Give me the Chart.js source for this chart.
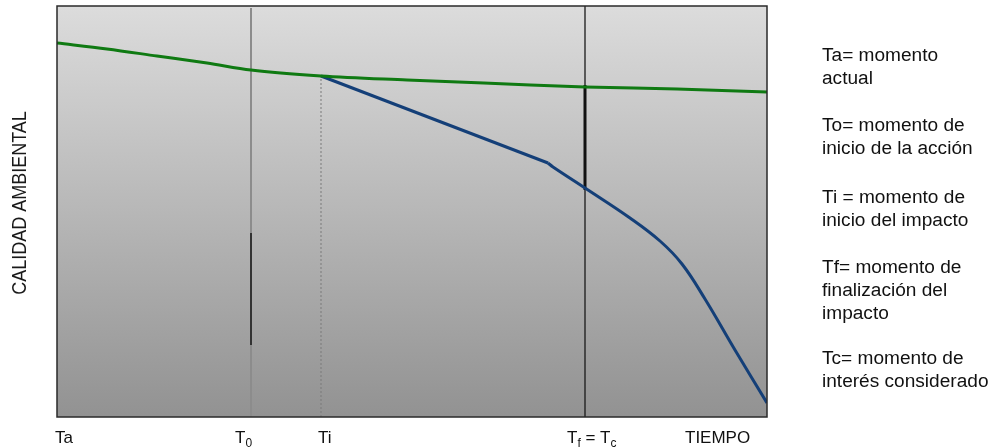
<!DOCTYPE html>
<html>
<head>
<meta charset="utf-8">
<script src="https://cdn.jsdelivr.net/npm/chart.js@4.4.1/dist/chart.umd.min.js"></script>
<style>
  html, body { margin: 0; padding: 0; background: #fff; }
  #wrap { position: relative; width: 995px; height: 448px; }
  #legend { position: absolute; left: 822px; top: 0; font-family: "Liberation Sans", Arial, sans-serif;
            font-size: 18px; line-height: 23px; color: #111; }
  #legend div { position: absolute; left: 0; white-space: nowrap; transform-origin: 0 0; transform: scaleX(1.06); }
</style>
</head>
<body>
<div id="wrap">
  <canvas id="myChart" width="995" height="448"></canvas>
  <div id="legend"></div>
</div>
<script>
// ejes: tiempo (x) y calidad ambiental (y), en unidades del grafico
const xMax = 710;
const yMax = 411;

// momentos: Ta, T0, Ti, Tf
const momentX = [0, 194, 264, 528];

// calidad ambiental sin proyecto (verde)
const greenX = [0, 50, 100, 150, 194, 264, 350, 450, 528, 620, 710];
const greenY = [374, 368, 361, 354, 347, 341, 337, 333, 330, 328, 325];

// calidad ambiental con proyecto (azul): tramo recto y tramo curvo
const blueLineX = [264, 491];
const blueLineY = [341, 254];
const blueCurveX = [491, 496, 528, 573, 603, 625, 648, 678, 710];
const blueCurveY = [254, 250, 229, 199, 176, 153, 118, 67, 14];

// etiquetas del eje x ("_" = subindice)
const tickLabels = ['Ta', 'T_0', 'Ti', 'T_f = T_c', 'TIEMPO'];
const tickX = [-2, 178, 261, 510, 628];

const yTitle = 'CALIDAD AMBIENTAL';

// leyenda de la derecha
const legendBlocks = [
  ['Ta= momento', 'actual'],
  ['To= momento de', 'inicio de la acción'],
  ['Ti = momento de', 'inicio del impacto'],
  ['Tf= momento de', 'finalización del', 'impacto'],
  ['Tc= momento de', 'interés considerado']
];
const legendTop = [44, 114, 186, 256, 347];

function pts(xs, ys) {
  return xs.map((x, i) => ({ x: x, y: ys[i] }));
}

// lineas verticales
const vT0 = pts([momentX[1], momentX[1]], [0, yMax - 2]);
const vT0dark = pts([momentX[1], momentX[1]], [72, 184]);
const vTi = pts([momentX[2], momentX[2]], [0, greenY[5]]);
const vTf = pts([momentX[3], momentX[3]], [0, yMax]);
const vTfthick = pts([momentX[3], momentX[3]], [227, 332]);

const FONT = '"Liberation Sans", Arial, sans-serif';

const bgPlugin = {
  id: 'bg',
  beforeDraw(chart) {
    const { ctx, chartArea: a } = chart;
    const g = ctx.createLinearGradient(0, a.top, 0, a.bottom);
    g.addColorStop(0, '#dcdcdc');
    g.addColorStop(1, '#929292');
    ctx.save();
    ctx.fillStyle = g;
    ctx.fillRect(a.left, a.top, a.right - a.left, a.bottom - a.top);
    ctx.restore();
  },
  afterDraw(chart) {
    const { ctx, chartArea: a } = chart;
    ctx.save();
    ctx.strokeStyle = '#2a2a2a';
    ctx.lineWidth = 1.5;
    ctx.strokeRect(a.left, a.top, a.right - a.left, a.bottom - a.top);

    // titulo eje y
    ctx.fillStyle = '#1a1a1a';
    ctx.font = '18px ' + FONT;
    ctx.translate(20, 203);
    ctx.rotate(-Math.PI / 2);
    ctx.scale(1, 1.12);
    ctx.textAlign = 'center';
    ctx.textBaseline = 'middle';
    ctx.fillText(yTitle, 0, 0);
    ctx.restore();

    // etiquetas eje x
    const xs = chart.scales.x;
    ctx.save();
    ctx.fillStyle = '#111';
    ctx.textBaseline = 'alphabetic';
    ctx.textAlign = 'left';
    tickLabels.forEach((lab, i) => {
      let px = xs.getPixelForValue(tickX[i]);
      const parts = lab.split(/(_.)/);
      parts.forEach(p => {
        if (!p) return;
        if (p[0] === '_') {
          ctx.font = '12px ' + FONT;
          ctx.fillText(p[1], px, 447);
          px += ctx.measureText(p[1]).width;
        } else {
          ctx.font = '17px ' + FONT;
          ctx.fillText(p, px, 443);
          px += ctx.measureText(p).width;
        }
      });
    });
    ctx.restore();
  }
};

const data = {
  datasets: [
    { data: pts(greenX, greenY), borderColor: '#0f7a12', borderWidth: 3, cubicInterpolationMode: 'monotone', order: 0 },
    { data: pts(blueLineX, blueLineY), borderColor: '#143f78', borderWidth: 3, tension: 0, order: 0 },
    { data: pts(blueCurveX, blueCurveY), borderColor: '#143f78', borderWidth: 3, tension: 0.4, order: 0 },
    { data: vT0, borderColor: '#8c8c8c', borderWidth: 2, order: 2 },
    { data: vT0dark, borderColor: '#333333', borderWidth: 2, order: 1 },
    { data: vTi, borderColor: '#7a7a7a', borderWidth: 1, borderDash: [2, 2], order: 2 },
    { data: vTf, borderColor: '#1a1a1a', borderWidth: 1.3, order: 2 },
    { data: vTfthick, borderColor: '#111111', borderWidth: 3, order: 1 }
  ]
};

const config = {
  type: 'line',
  data: data,
  options: {
    responsive: false,
    animation: false,
    layout: { padding: { left: 57, right: 228, top: 6, bottom: 31 } },
    elements: { point: { radius: 0 } },
    plugins: { legend: { display: false }, tooltip: { enabled: false } },
    scales: {
      x: { type: 'linear', min: 0, max: xMax, display: false },
      y: { type: 'linear', min: 0, max: yMax, display: false }
    }
  },
  plugins: [bgPlugin]
};

const myChart = new Chart(document.getElementById('myChart'), config);

const legend = document.getElementById('legend');
legendBlocks.forEach((block, i) => {
  const d = document.createElement('div');
  d.style.top = legendTop[i] + 'px';
  d.innerHTML = block.join('<br>');
  legend.appendChild(d);
});
</script>
</body>
</html>
